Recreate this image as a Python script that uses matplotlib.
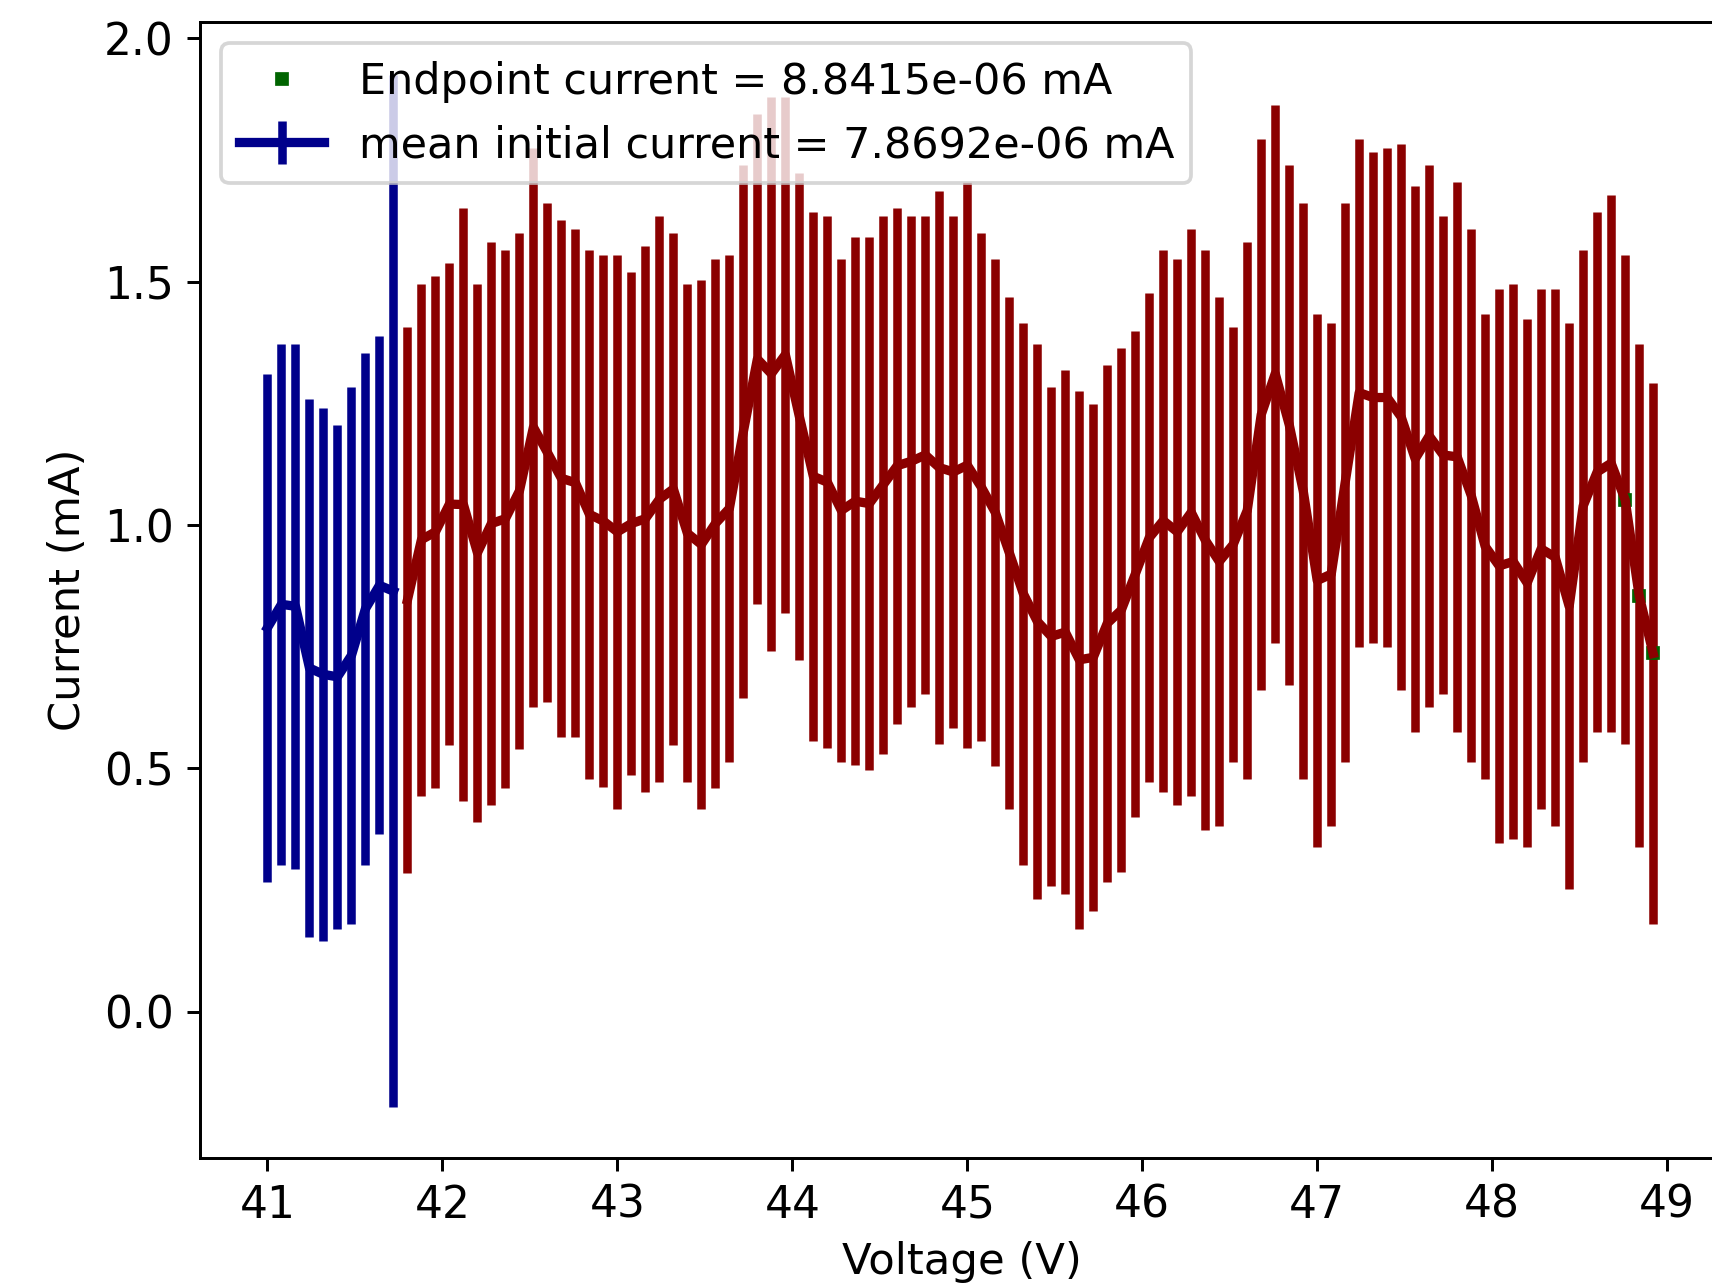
import matplotlib
matplotlib.use("Agg")
import matplotlib.pyplot as plt

plt.rcParams['font.size'] = 12

# initial scan (blue)
init_v = [41.00, 41.08, 41.16, 41.24, 41.32, 41.40, 41.48, 41.56, 41.64, 41.72]
init_i = [0.789, 0.837, 0.833, 0.706, 0.693, 0.688, 0.732, 0.828, 0.876, 0.864]
init_err = [0.522, 0.535, 0.540, 0.552, 0.548, 0.518, 0.552, 0.526, 0.512, 1.061]

# rest of the scan (red)
scan_v = [41.80, 41.88, 41.96, 42.04, 42.12, 42.20, 42.28, 42.36, 42.44, 42.52,
          42.60, 42.68, 42.76, 42.84, 42.92, 43.00, 43.08, 43.16, 43.24, 43.32,
          43.40, 43.48, 43.56, 43.64, 43.72, 43.80, 43.88, 43.96, 44.04, 44.12,
          44.20, 44.28, 44.36, 44.44, 44.52, 44.60, 44.68, 44.76, 44.84, 44.92,
          45.00, 45.08, 45.16, 45.24, 45.32, 45.40, 45.48, 45.56, 45.64, 45.72,
          45.80, 45.88, 45.96, 46.04, 46.12, 46.20, 46.28, 46.36, 46.44, 46.52,
          46.60, 46.68, 46.76, 46.84, 46.92, 47.00, 47.08, 47.16, 47.24, 47.32,
          47.40, 47.48, 47.56, 47.64, 47.72, 47.80, 47.88, 47.96, 48.04, 48.12,
          48.20, 48.28, 48.36, 48.44, 48.52, 48.60, 48.68, 48.76, 48.84, 48.92]
scan_i = [0.846, 0.970, 0.986, 1.043, 1.042, 0.943, 1.003, 1.013, 1.070, 1.201,
          1.149, 1.096, 1.087, 1.022, 1.008, 0.986, 1.003, 1.013, 1.053, 1.074,
          0.983, 0.960, 1.003, 1.034, 1.192, 1.341, 1.311, 1.350, 1.223, 1.100,
          1.088, 1.030, 1.049, 1.044, 1.083, 1.122, 1.131, 1.144, 1.118, 1.109,
          1.123, 1.078, 1.026, 0.943, 0.859, 0.802, 0.771, 0.780, 0.723, 0.728,
          0.798, 0.825, 0.899, 0.974, 1.009, 0.986, 1.026, 0.969, 0.925, 0.960,
          1.030, 1.227, 1.311, 1.206, 1.070, 0.886, 0.899, 1.088, 1.272, 1.262,
          1.262, 1.222, 1.136, 1.183, 1.144, 1.140, 1.061, 0.956, 0.916, 0.925,
          0.881, 0.951, 0.934, 0.833, 1.039, 1.109, 1.127, 1.052, 0.855, 0.736]
scan_err = [0.561, 0.526, 0.526, 0.495, 0.609, 0.553, 0.578, 0.553, 0.530, 0.574,
            0.513, 0.531, 0.522, 0.543, 0.547, 0.569, 0.517, 0.561, 0.582, 0.526,
            0.512, 0.543, 0.543, 0.521, 0.547, 0.503, 0.569, 0.530, 0.500, 0.543,
            0.547, 0.517, 0.543, 0.548, 0.553, 0.530, 0.504, 0.491, 0.569, 0.526,
            0.582, 0.522, 0.521, 0.526, 0.557, 0.570, 0.512, 0.538, 0.553, 0.521,
            0.531, 0.539, 0.500, 0.503, 0.557, 0.561, 0.582, 0.596, 0.543, 0.447,
            0.552, 0.566, 0.553, 0.534, 0.592, 0.547, 0.517, 0.574, 0.522, 0.504,
            0.512, 0.561, 0.561, 0.557, 0.491, 0.565, 0.547, 0.478, 0.569, 0.570,
            0.542, 0.534, 0.552, 0.582, 0.526, 0.534, 0.552, 0.503, 0.517, 0.556]

# endpoint points (green)
end_v = [48.76, 48.84, 48.92]
end_i = [1.052, 0.855, 0.736]

fig = plt.figure(figsize=(1712 / 267.5, 1287 / 267.5), dpi=267.5)
ax = fig.add_axes([0.11682, 0.10062, 0.89031, 0.88228])

eb = ax.errorbar(init_v, init_i, yerr=init_err, color='darkblue', lw=2.5, elinewidth=2.3,
                 label='mean initial current = 7.8692e-06 mA')
ax.errorbar(scan_v, scan_i, yerr=scan_err, color='darkred', lw=2.5, elinewidth=2.3)
pt, = ax.plot(end_v, end_i, 's', color='darkgreen', markersize=2.5,
              label='Endpoint current = 8.8415e-06 mA')

ax.set_xlim(40.6142, 49.3262)
ax.set_ylim(-0.2998, 2.0337)
ax.set_xticks([41, 42, 43, 44, 45, 46, 47, 48, 49])
ax.set_yticks([0.0, 0.5, 1.0, 1.5, 2.0])
ax.tick_params(labelsize=11.8)
ax.set_xlabel('Voltage (V)', fontsize=11.7)
ax.set_ylabel('Current (mA)', fontsize=11.7)
ax.legend(handles=[pt, eb], loc='upper left', fontsize=11.55)

fig.savefig('out.png', dpi=267.5)
